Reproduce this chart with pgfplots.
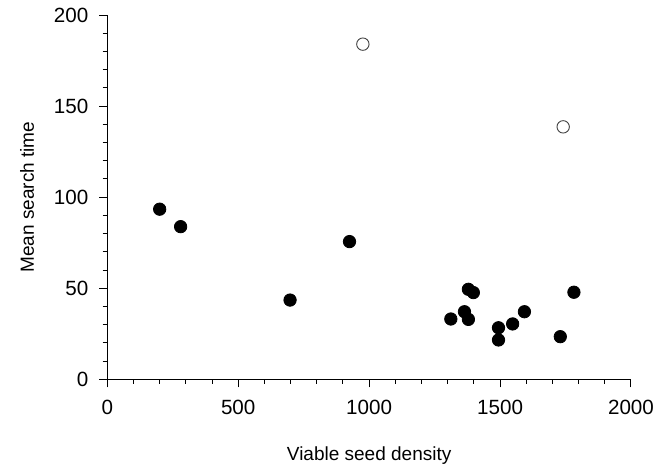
\documentclass[border=0pt]{standalone}
\usepackage{pgfplots}
\pgfplotsset{compat=1.18}
\usepackage{fontspec}
\setmainfont{Liberation Sans}

\pgfplotstableread{
x y
200 93.4
280 83.8
698 43.5
925 75.6
1312 33.1
1364 37.1
1379 49.4
1398 47.6
1379 32.9
1494 28.3
1494 21.6
1548 30.4
1593 37.1
1730 23.4
1782 47.8
}\filled

\pgfplotstableread{
x y
976 184
1741 138.6
}\opendots

\begin{document}
\begin{tikzpicture}
\path[use as bounding box] (-53.65pt,-44.35pt) rectangle (279.35pt,189.65pt);
\begin{axis}[
    at={(0,0)}, anchor=south west,
    scale only axis,
    width=261.85pt, height=182.15pt,
    xmin=0, xmax=2000, ymin=0, ymax=200,
    axis x line*=bottom, axis y line*=left,
    axis line style={line width=0.5pt},
    xtick={0,500,...,2000}, ytick={0,50,...,200},
    minor x tick num=4, minor y tick num=4,
    tick align=outside,
    major tick length=4pt, minor tick length=2.3pt,
    tick style={line width=0.5pt, black},
    font=\fontsize{9.5pt}{11pt}\selectfont,
    tick label style={font=\fontsize{10.3pt}{12pt}\selectfont},
    /pgf/number format/assume math mode=true,
    /pgf/number format/1000 sep={},
    xticklabel style={yshift=-3pt},
    yticklabel style={xshift=-2pt},
    xlabel={Viable seed density},
    ylabel={Mean search time},
    xlabel style={yshift=-9pt},
    ylabel style={yshift=3pt},
    clip=false,
]
\addplot[only marks, mark=*, mark size=3.1pt, mark options={fill=black, draw=black}] table {\filled};
\addplot[only marks, mark=o, mark size=3.1pt, mark options={draw=black!75, line width=0.45pt, fill=white}] table {\opendots};
\end{axis}
\end{tikzpicture}
\end{document}
